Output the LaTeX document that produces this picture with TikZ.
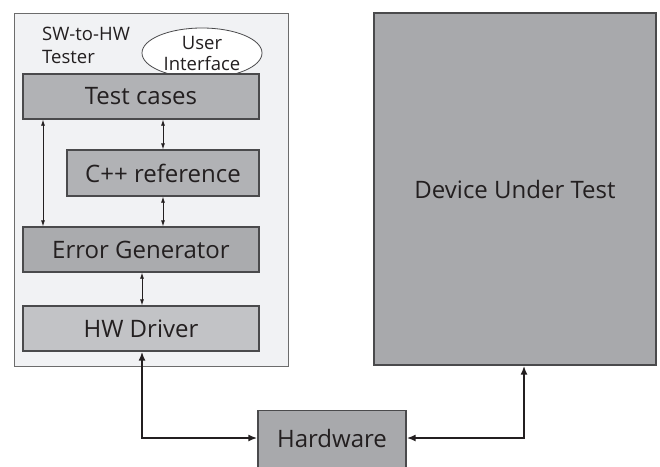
\documentclass[tikz,border=0pt]{standalone}
\usepackage{fontspec}
\setmainfont{Open Sans}
\usepackage{tikz}
\usetikzlibrary{arrows.meta,shapes.geometric}

\definecolor{txtc}{HTML}{231F20}
\definecolor{edgec}{HTML}{4A4A4C}
\definecolor{frame}{HTML}{F1F2F4}
\definecolor{boxc}{HTML}{B1B2B5}
\definecolor{drvc}{HTML}{C2C3C6}
\definecolor{devc}{HTML}{A8A9AC}

\begin{document}
\begin{tikzpicture}[x=1pt,y=-1pt,
	box/.style={rectangle,draw=edgec,line width=1.3pt,fill=boxc,text=txtc,inner sep=0pt,
		font=\fontsize{24}{28}\selectfont},
	small/.style={text=txtc,inner sep=0pt,align=center,font=\fontsize{18.5}{23}\selectfont},
	thin/.style={{Latex[length=6pt,width=4pt]}-{Latex[length=6pt,width=4pt]},line width=0.8pt,draw=txtc},
	thick/.style={{Latex[length=9pt,width=7pt]}-{Latex[length=9pt,width=7pt]},line width=2pt,draw=txtc},
	]
	\clip (0,0) rectangle (660,466);
	\fill[white] (0,0) rectangle (660,466);

	% tester frame and its labels
	\node[rectangle,draw=gray!85!black,line width=0.9pt,fill=frame,minimum width=274pt,minimum height=353pt] (tester) at (151,189.5) {};
	\node[small,anchor=north west,align=left] (title) at (42,27) {SW-to-HW\\Tester};
	\node[small,font=\fontsize{18.5}{21}\selectfont,ellipse,draw=edgec,line width=0.8pt,fill=white,minimum width=120pt,minimum height=50pt] (ui) at (202,53) {User\\Interface};

	% blocks
	\node[box,minimum width=236pt,minimum height=45pt] (tc) at (141,96.5) {Test cases};
	\node[box,minimum width=192pt,minimum height=46pt] (cref) at (163,173) {C++ reference};
	\node[box,fill=boxc!96!black,minimum width=236pt,minimum height=45pt] (errgen) at (141,249.5) {Error Generator};
	\node[box,fill=drvc,minimum width=236pt,minimum height=45pt] (hwdrv) at (141,328.5) {HW Driver};
	\node[box,fill=devc,minimum width=282pt,minimum height=352pt] (dut) at (515,189) {Device Under Test};
	\node[box,fill=devc,minimum width=148pt,minimum height=70pt,anchor=north] (hwbox) at (332,410) {};
	\node[text=txtc,font=\fontsize{24}{28}\selectfont] (hwtxt) at (332,438) {Hardware};

	\coordinate (lft) at (43,0);
	\coordinate (mid) at (163,0);
	\coordinate (drv) at (142,0);
	\coordinate (devx) at (524,0);
	\coordinate (bus) at (0,438);

	% links inside the tester
	\draw[thin] (tc.south -| lft) -- (errgen.north -| lft);
	\draw[thin] (tc.south -| mid) -- (cref.north -| mid);
	\draw[thin] (cref.south -| mid) -- (errgen.north -| mid);
	\draw[thin] (errgen.south -| drv) -- (hwdrv.north -| drv);

	% links to the hardware
	\draw[thick] (hwdrv.south -| drv) |- (hwbox.west |- bus);
	\draw[thick] (dut.south -| devx) |- (hwbox.east |- bus);
\end{tikzpicture}
\end{document}
